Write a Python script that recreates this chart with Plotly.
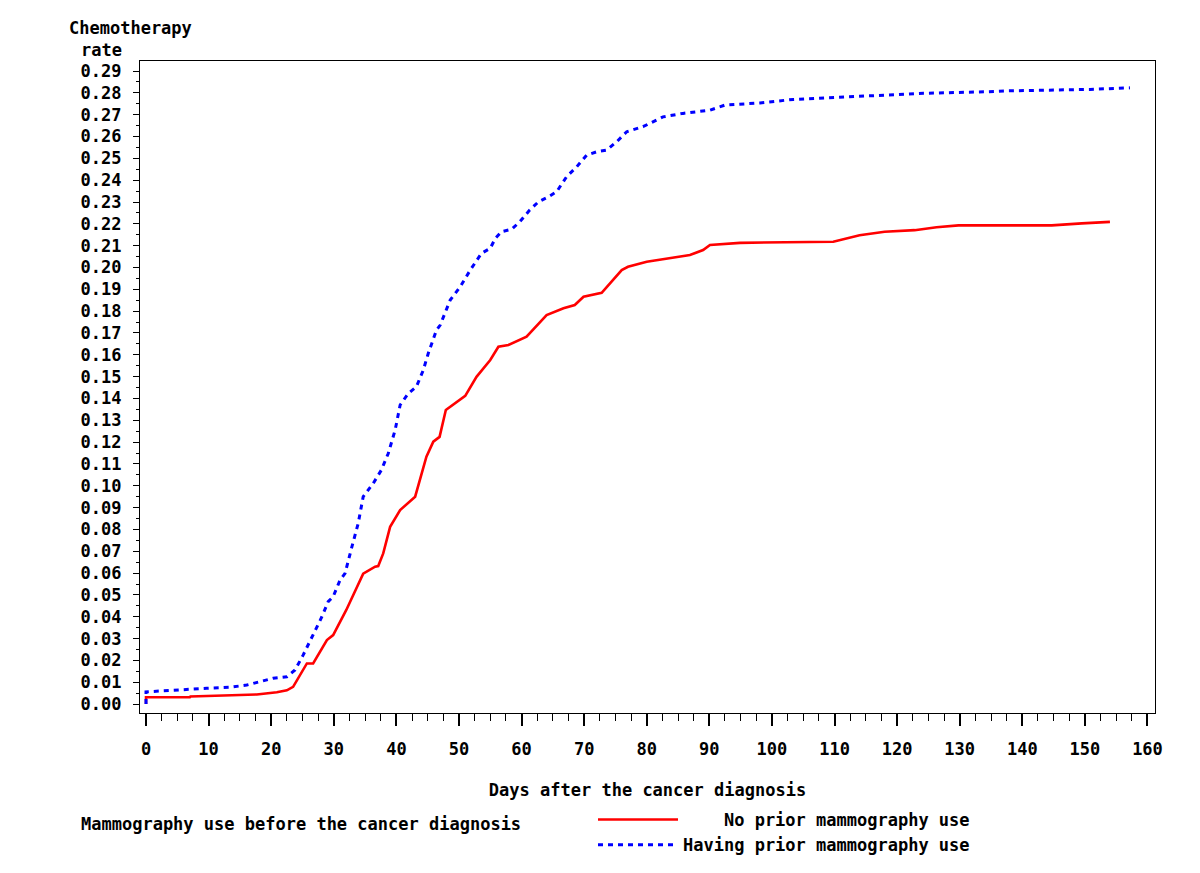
import plotly.graph_objects as go

# ---- data ----
no_prior_days = [0, 0, 7, 7.1, 13.7, 17.7, 20.9, 22.5, 23.5, 24.6, 25.7, 26.7, 28.9, 29.9,
                 32.0, 34.7, 36.6, 37.1, 37.9, 39.0, 40.6, 43.0, 44.8, 45.9, 46.9, 47.9,
                 51.0, 52.8, 55.0, 56.3, 57.9, 60.8, 64.0, 66.7, 68.5, 69.9, 72.8, 76.0,
                 77.0, 80.0, 86.9, 89.0, 90.1, 94.9, 109.8, 114.0, 118.0, 122.8, 126.3,
                 129.8, 144.7, 149.5, 154.0]
no_prior_rate = [0, 0.0031, 0.0031, 0.0035, 0.0040, 0.0044, 0.0054, 0.0063, 0.0079, 0.0133,
                 0.0186, 0.0186, 0.0293, 0.0316, 0.0431, 0.0597, 0.0629, 0.0632, 0.0690,
                 0.0812, 0.0889, 0.0950, 0.1133, 0.1202, 0.1224, 0.1347, 0.1412, 0.1499,
                 0.1576, 0.1637, 0.1645, 0.1683, 0.1782, 0.1813, 0.1828, 0.1866, 0.1884,
                 0.1988, 0.2003, 0.2026, 0.2057, 0.2080, 0.2103, 0.2113, 0.2118, 0.2148,
                 0.2164, 0.2171, 0.2184, 0.2193, 0.2193, 0.2202, 0.2209]

prior_days = [0, 0, 9.7, 13.4, 16.1, 17.7, 20.3, 22.5, 23.8, 25.1, 26.7, 28.1, 29.1, 29.9,
              31.0, 31.8, 32.9, 33.9, 34.7, 36.3, 37.6, 38.7, 39.8, 40.6, 41.9, 43.2, 44.3,
              45.1, 46.4, 47.0, 48.6, 50.2, 51.8, 53.6, 55.0, 55.8, 56.8, 58.4, 59.7, 61.3,
              62.7, 64.3, 65.6, 67.2, 68.8, 70.4, 72.0, 73.6, 75.2, 76.8, 79.4, 82.6, 85.8,
              90.1, 92.5, 98.1, 103.4, 110.9, 115.7, 124.2, 134.3, 137.5, 150.8, 157.2]
prior_rate = [0, 0.0056, 0.0072, 0.0077, 0.0087, 0.0098, 0.0118, 0.0125, 0.0156, 0.0224,
              0.0316, 0.0400, 0.0469, 0.0492, 0.0568, 0.0599, 0.0721, 0.0828, 0.0950,
              0.1011, 0.1072, 0.1148, 0.1255, 0.1370, 0.1423, 0.1454, 0.1530, 0.1607,
              0.1713, 0.1736, 0.1851, 0.1912, 0.1988, 0.2065, 0.2088, 0.2133, 0.2164,
              0.2175, 0.2209, 0.2263, 0.2301, 0.2324, 0.2347, 0.2416, 0.2461, 0.2515,
              0.2530, 0.2538, 0.2576, 0.2622, 0.2645, 0.2690, 0.2706, 0.2721, 0.2744,
              0.2754, 0.2770, 0.2779, 0.2787, 0.2798, 0.2805, 0.2809, 0.2816, 0.2823]

series_names = ["No prior mammography use", "Having prior mammography use"]
x_title = "Days after the cancer diagnosis"
y_title_lines = ["Chemotherapy", "rate"]
legend_title = "Mammography use before the cancer diagnosis"

# ---- layout geometry (page has an 8px body margin) ----
OFF = 8
W, H = 1200 - OFF, 873 - OFF
L, R, T, B = 140 - OFF, 1155 - OFF, 61 - OFF, 713 - OFF
FONT = dict(family="DejaVu Sans Mono", size=17, color="black", weight="bold")


def px(xp):
    return (xp - OFF - L) / (R - L)


def py(yp):
    return (B - (yp - OFF)) / (B - T)


# pad shorter legend label so both right-align (monospace font)
w = max(len(s) for s in series_names)
legend_labels = ["\u00a0" * (w - len(s)) + s for s in series_names]

fig = go.Figure()
fig.add_trace(go.Scatter(x=no_prior_days, y=no_prior_rate, mode="lines",
                         name=legend_labels[0],
                         line=dict(color="#ff0000", width=2.6)))
fig.add_trace(go.Scatter(x=prior_days, y=prior_rate, mode="lines",
                         name=legend_labels[1],
                         line=dict(color="#0000ff", width=3, dash="5px,5px")))

fig.update_layout(
    width=W, height=H,
    margin=dict(l=L, r=W - R, t=T, b=H - B, autoexpand=False),
    paper_bgcolor="white", plot_bgcolor="white",
    font=FONT,
    showlegend=True,
    legend=dict(x=px(593), y=py(802), xanchor="left", yanchor="top",
                bgcolor="rgba(0,0,0,0)", borderwidth=0, itemwidth=80,
                tracegroupgap=0, font=FONT),
    xaxis=dict(range=[-0.96, 161.2], tickmode="linear", tick0=0, dtick=10,
               ticks="outside", ticklen=12, tickwidth=1.5, tickcolor="black",
               minor=dict(ticks="outside", dtick=2.5, tick0=0, ticklen=7,
                          tickcolor="black", tickwidth=1),
               showline=True, mirror=True, linecolor="black", linewidth=1.2,
               showgrid=False, zeroline=False, ticklabelstandoff=8,
               title=dict(text=x_title, standoff=26, font=FONT),
               automargin=False),
    yaxis=dict(range=[-0.0041, 0.2946], tickmode="linear", tick0=0, dtick=0.01,
               tickformat=".2f",
               ticks="outside", ticklen=6, tickwidth=1.2, tickcolor="black",
               minor=dict(ticks="outside", dtick=0.005, tick0=0, ticklen=3,
                          tickcolor="black", tickwidth=1),
               showline=True, mirror=True, linecolor="black", linewidth=1.2,
               showgrid=False, zeroline=False, ticklabelstandoff=8,
               automargin=False),
    annotations=[
        dict(text=y_title_lines[0], xref="paper", yref="paper", x=px(130), y=py(28),
             xanchor="center", yanchor="middle", showarrow=False, font=FONT),
        dict(text=y_title_lines[1], xref="paper", yref="paper", x=px(101), y=py(50),
             xanchor="center", yanchor="middle", showarrow=False, font=FONT),
        dict(text=legend_title, xref="paper", yref="paper", x=px(301), y=py(824),
             xanchor="center", yanchor="middle", showarrow=False, font=FONT),
    ],
)

fig.write_html("out.html")
